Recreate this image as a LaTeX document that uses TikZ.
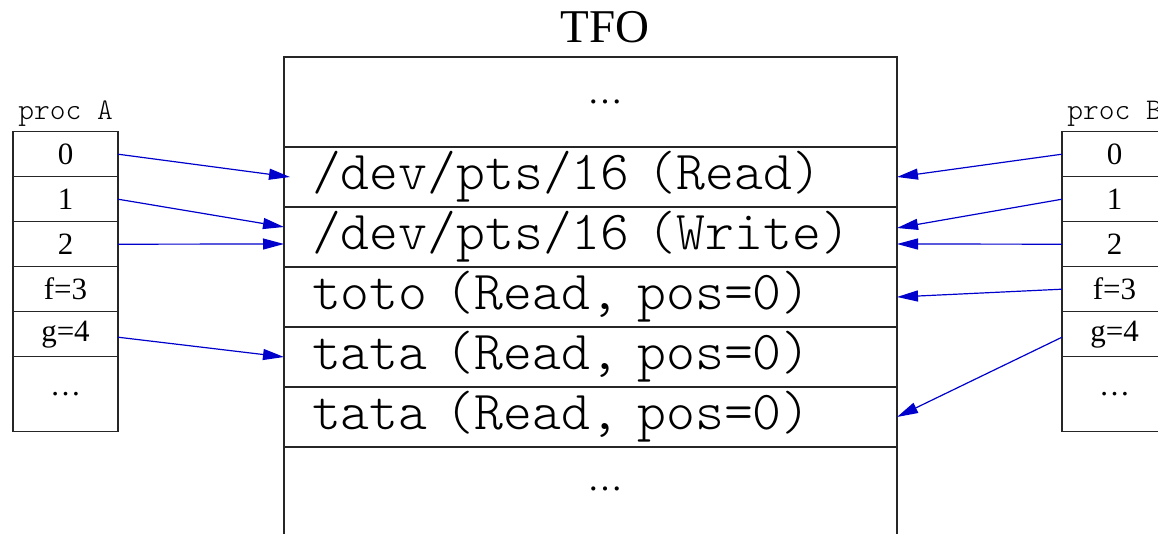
\documentclass[tikz,border=0pt]{standalone}
\usepackage{fontspec}
\setmainfont{Liberation Serif}
\setmonofont{Latin Modern Mono Light}
\newfontfamily\timesfont{Liberation Serif}
\usetikzlibrary{arrows.meta}
\definecolor{ptrblue}{RGB}{0,0,205}

\begin{document}
\begin{tikzpicture}[x=1pt, y=-1pt,
  box/.style={draw=black!85, line width=1.1pt, outer sep=0pt, inner sep=0pt},
  cell/.style={box, minimum width=105pt, minimum height=45pt,
    font=\timesfont\fontsize{31}{31}\selectfont},
  entry/.style={box, minimum width=613pt, minimum height=60pt,
    inner xsep=28pt, text width=557pt, align=left,
    font=\ttfamily\fontsize{55}{55}\selectfont},
  ptr/.style={draw=ptrblue, line width=1.2pt,
    -{Triangle[length=21pt, width=11pt]}},
  proclabel/.style={anchor=base, font=\ttfamily\fontsize{30}{30}\selectfont},
  dots/.style={font=\timesfont\fontsize{35}{35}\selectfont}]

  \useasboundingbox (0,0) rectangle (1158,534);
  \clip (0,0) rectangle (1158,534);

  % TFO table
  \node[font=\timesfont\fontsize{47}{47}\selectfont] (tfo) at (605,27) {TFO};
  \node[entry, minimum height=90pt] (top) at (590.5,102) {};
  \node[dots] (topdots) at (605,102) {\ldots};
  \node[entry] (rd) at (590.5,177) {/dev/pts/16 (Read)};
  \node[entry] (wr) at (590.5,237) {/dev/pts/16 (Write)};
  \node[entry] (toto) at (590.5,297) {toto (Read, pos=0)};
  \node[entry] (tataA) at (590.5,357) {tata (Read, pos=0)};
  \node[entry] (tataB) at (590.5,417) {tata (Read, pos=0)};
  \node[entry, minimum height=90pt] (bot) at (590.5,492) {};
  \node[dots] (botdots) at (605,489) {\ldots};

  % proc A
  \node[proclabel] (labA) at (65.5,120) {proc A};
  \node[cell] (a0) at (65.5,154.2) {0};
  \node[cell] (a1) at (65.5,199.2) {1};
  \node[cell] (a2) at (65.5,244.2) {2};
  \node[cell] (a3) at (65.5,289.2) {f=3};
  \node[cell] (a4) at (65.5,334.2) {g=4};
  \node[cell, minimum height=75pt] (a5) at (65.5,394.2) {\ldots};

  % proc B (cut by the right edge)
  \node[proclabel] (labB) at (1114.5,120) {proc B};
  \node[cell] (b0) at (1114.5,154.2) {0};
  \node[cell] (b1) at (1114.5,199.2) {1};
  \node[cell] (b2) at (1114.5,244.2) {2};
  \node[cell] (b3) at (1114.5,289.2) {f=3};
  \node[cell] (b4) at (1114.5,334.2) {g=4};
  \node[cell, minimum height=75pt] (b5) at (1114.5,394.2) {\ldots};

  % pointers
  \draw[ptr] (a0.east) -- ([xshift=6pt]rd.west);
  \draw[ptr] (a1.east) -- ([yshift=10pt]wr.west);
  \draw[ptr] (a2.east) -- ([yshift=-7pt]wr.west);
  \draw[ptr] ([yshift=-3pt]a4.east) -- (tataA.west);
  \draw[ptr] (b0.west) -- (rd.east);
  \draw[ptr] (b1.west) -- ([yshift=9pt]wr.east);
  \draw[ptr] (b2.west) -- ([yshift=-7pt]wr.east);
  \draw[ptr] (b3.west) -- (toto.east);
  \draw[ptr] ([yshift=-3pt]b4.west) -- (tataB.east);
\end{tikzpicture}
\end{document}
